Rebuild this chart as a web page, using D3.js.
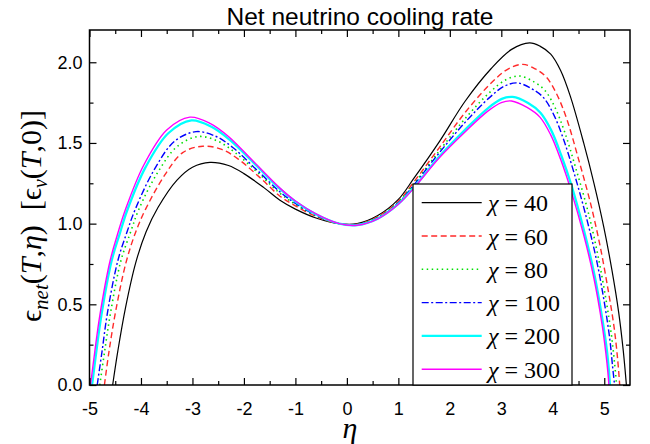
<!DOCTYPE html>
<html><head><meta charset="utf-8">
<script src="https://cdn.jsdelivr.net/npm/d3@7"></script>
<style>body{margin:0;background:#fff}</style>
</head><body><svg id="c" width="650" height="444"></svg>
<script>
// ---- data ----
const chiLabels = ["40", "60", "80", "100", "200", "300"];
const xTicks = [-5, -4, -3, -2, -1, 0, 1, 2, 3, 4, 5];
const yTicks = [0.0, 0.5, 1.0, 1.5, 2.0];

const eta40 = [-4.55,-4.45,-4.30,-4.10,-3.90,-3.67,-3.30,-3.00,-2.66,-2.30,-2.00,-1.60,-1.30,-1.00,-0.60,-0.15,0.20,0.60,1.00,1.30,1.80,2.30,2.80,3.20,3.55,3.75,3.96,4.15,4.34,4.60,4.80,4.99,5.15,5.28,5.37,5.43];
const net40 = [0,0.21,0.48,0.76,0.95,1.10,1.27,1.35,1.38,1.36,1.31,1.22,1.145,1.09,1.035,1.00,1.00,1.05,1.15,1.28,1.51,1.76,1.96,2.08,2.12,2.10,2.05,1.95,1.79,1.50,1.25,0.98,0.71,0.45,0.21,0];

const eta60 = [-4.71,-4.62,-4.49,-4.29,-4.10,-3.91,-3.54,-3.19,-2.80,-2.43,-2.11,-1.67,-1.30,-1.00,-0.60,-0.15,0.20,0.60,1.00,1.30,1.80,2.30,2.78,3.13,3.42,3.66,3.88,4.08,4.27,4.50,4.73,4.92,5.08,5.19,5.26,5.30];
const net60 = [0,0.21,0.46,0.76,0.95,1.09,1.30,1.44,1.48,1.46,1.40,1.28,1.17,1.11,1.044,1.00,0.996,1.043,1.139,1.258,1.473,1.69,1.864,1.958,1.987,1.959,1.906,1.80,1.65,1.40,1.13,0.86,0.58,0.36,0.16,0];

const eta80 = [-4.80,-4.71,-4.59,-4.39,-4.21,-4.04,-3.67,-3.29,-2.88,-2.50,-2.17,-1.71,-1.30,-1.00,-0.60,-0.15,0.20,0.60,1.00,1.30,1.80,2.30,2.77,3.09,3.35,3.61,3.84,4.04,4.23,4.45,4.69,4.88,5.04,5.14,5.20,5.24];
const net80 = [0,0.20,0.45,0.77,0.94,1.09,1.32,1.48,1.54,1.51,1.44,1.31,1.188,1.12,1.049,1.00,0.994,1.039,1.133,1.246,1.453,1.652,1.812,1.892,1.915,1.883,1.828,1.722,1.568,1.34,1.068,0.798,0.516,0.307,0.136,0];

const eta100 = [-4.85,-4.76,-4.65,-4.45,-4.28,-4.11,-3.75,-3.35,-2.93,-2.54,-2.21,-1.74,-1.30,-1.00,-0.60,-0.15,0.20,0.60,1.00,1.30,1.80,2.30,2.77,3.06,3.31,3.58,3.82,4.02,4.21,4.42,4.66,4.86,5.02,5.11,5.16,5.20];
const net100 = [0,0.20,0.45,0.77,0.94,1.09,1.33,1.51,1.57,1.54,1.47,1.33,1.197,1.125,1.052,1.00,0.993,1.036,1.129,1.239,1.441,1.629,1.781,1.852,1.872,1.838,1.781,1.674,1.521,1.307,1.029,0.759,0.475,0.278,0.12,0];

const eta200 = [-4.95,-4.87,-4.77,-4.57,-4.41,-4.27,-3.91,-3.47,-3.02,-2.63,-2.28,-1.79,-1.30,-1.00,-0.60,-0.15,0.20,0.60,1.00,1.30,1.80,2.30,2.75,3.01,3.22,3.52,3.76,3.97,4.16,4.36,4.61,4.81,4.97,5.05,5.09,5.11];
const net200 = [0,0.20,0.43,0.77,0.94,1.08,1.35,1.56,1.64,1.60,1.52,1.37,1.215,1.137,1.058,1.00,0.991,1.031,1.122,1.224,1.417,1.583,1.718,1.773,1.785,1.747,1.687,1.578,1.427,1.24,0.952,0.682,0.394,0.217,0.089,0];

const eta300 = [-4.98,-4.90,-4.80,-4.60,-4.45,-4.31,-3.95,-3.50,-3.05,-2.65,-2.30,-1.80,-1.30,-1.00,-0.60,-0.15,0.20,0.60,1.00,1.30,1.80,2.30,2.75,3.00,3.20,3.50,3.75,3.96,4.15,4.34,4.60,4.80,4.96,5.03,5.07,5.09];
const net300 = [0,0.20,0.43,0.77,0.94,1.08,1.36,1.58,1.66,1.62,1.54,1.38,1.22,1.14,1.06,1.00,0.99,1.03,1.12,1.22,1.41,1.57,1.70,1.75,1.76,1.72,1.66,1.55,1.40,1.22,0.93,0.66,0.37,0.20,0.08,0];

const etaSets = [eta40, eta60, eta80, eta100, eta200, eta300];
const netSets = [net40, net60, net80, net100, net200, net300];

// ---- styles ----
const colors = ["#000000", "#ff2a2a", "#00e000", "#0000ff", "#00ffff", "#ff00ff"];
const widths = [1.2, 1.4, 1.6, 1.4, 2.3, 1.4];
const dashes = [null, "6,3.5", "1.5,3.5", "7,2.5,2,2.5", null, null];
const serif = "'Liberation Serif', 'Times New Roman', Times, serif";
const sans = "'Liberation Sans', Arial, Helvetica, sans-serif";

const svg = d3.select("#c");
const L = 89.5, R = 630, T = 30, B = 385;
const x = d3.scaleLinear().domain([-5, 5.5]).range([L, R]);
const y = d3.scaleLinear().domain([0, 2.2]).range([B, T]);

svg.append("defs").append("clipPath").attr("id", "clip")
  .append("rect").attr("x", L).attr("y", T).attr("width", R - L).attr("height", B - T);

// curves
const line = d3.line().x(d => x(d[0])).y(d => y(d[1])).curve(d3.curveCatmullRom.alpha(0.5));
const g = svg.append("g").attr("clip-path", "url(#clip)");
etaSets.forEach((etas, i) => {
  const pts = etas.map((e, k) => [e, netSets[i][k]]);
  g.append("path").attr("d", line(pts)).attr("fill", "none")
    .attr("stroke", colors[i]).attr("stroke-width", widths[i])
    .attr("stroke-dasharray", dashes[i]);
});

// axes
const xMinor = d3.range(-4.5, 5.5, 1);
const yMinor = [0.25, 0.75, 1.25, 1.75];

function styleAxis(sel) {
  sel.select(".domain").remove();
  sel.selectAll("line").attr("stroke", "#000").attr("stroke-width", 1.2);
  sel.selectAll("text").attr("font-family", sans).attr("font-size", 18).attr("fill", "#000");
}
svg.append("g").attr("transform", `translate(0,${B})`)
  .call(d3.axisBottom(x).tickValues(xTicks).tickSize(-7).tickPadding(17).tickFormat(d => String(d)))
  .call(styleAxis);
svg.append("g").attr("transform", `translate(0,${B})`)
  .call(d3.axisBottom(x).tickValues(xMinor).tickSize(-4).tickFormat("")).call(styleAxis);
svg.append("g").attr("transform", `translate(0,${T})`)
  .call(d3.axisTop(x).tickValues(xTicks).tickSize(-7).tickFormat("")).call(styleAxis);
svg.append("g").attr("transform", `translate(0,${T})`)
  .call(d3.axisTop(x).tickValues(xMinor).tickSize(-4).tickFormat("")).call(styleAxis);
svg.append("g").attr("transform", `translate(${L},0)`)
  .call(d3.axisLeft(y).tickValues(yTicks).tickSize(-7).tickPadding(7).tickFormat(d3.format(".1f")))
  .call(styleAxis);
svg.append("g").attr("transform", `translate(${L},0)`)
  .call(d3.axisLeft(y).tickValues(yMinor).tickSize(-4).tickFormat("")).call(styleAxis);
svg.append("g").attr("transform", `translate(${R},0)`)
  .call(d3.axisRight(y).tickValues(yTicks).tickSize(-7).tickFormat("")).call(styleAxis);
svg.append("g").attr("transform", `translate(${R},0)`)
  .call(d3.axisRight(y).tickValues(yMinor).tickSize(-4).tickFormat("")).call(styleAxis);

// frame
svg.append("rect").attr("x", L).attr("y", T).attr("width", R - L).attr("height", B - T)
  .attr("fill", "none").attr("stroke", "#000").attr("stroke-width", 1.5);

// legend
const lg = svg.append("g");
lg.append("rect").attr("x", 413).attr("y", 184).attr("width", 159).attr("height", B - 184)
  .attr("fill", "#fff").attr("stroke", "#000").attr("stroke-width", 1.2);
chiLabels.forEach((lab, i) => {
  const cy = 202.7 + i * 33.3;
  lg.append("line").attr("x1", 421.7).attr("x2", 481.7).attr("y1", cy).attr("y2", cy)
    .attr("stroke", colors[i]).attr("stroke-width", widths[i]).attr("stroke-dasharray", dashes[i]);
  const t = lg.append("text").attr("x", 488).attr("y", cy + 8.5)
    .style("font-family", serif).attr("font-size", 24).attr("fill", "#000");
  t.append("tspan").attr("font-style", "italic").text("χ");
  t.append("tspan").text(" = " + lab);
});

// title
svg.append("text").attr("x", 360).attr("y", 25).attr("text-anchor", "middle")
  .style("font-family", sans).attr("font-size", 24.5).attr("fill", "#000")
  .text("Net neutrino cooling rate");

// x label
svg.append("text").attr("x", 350).attr("y", 438).attr("text-anchor", "middle")
  .style("font-family", serif).attr("font-style", "italic")
  .attr("font-size", 30).attr("fill", "#000").text("η");

// y label
const yl = svg.append("text").attr("transform", "translate(41,216) rotate(-90)")
  .attr("text-anchor", "middle")
  .style("font-family", serif).attr("font-size", 30).attr("fill", "#000");
yl.append("tspan").text("ϵ");
yl.append("tspan").attr("font-style", "italic").attr("font-size", 21).attr("dy", 7).text("net");
yl.append("tspan").attr("dy", -7).text("(");
yl.append("tspan").attr("font-style", "italic").text("T");
yl.append("tspan").text(",");
yl.append("tspan").attr("font-style", "italic").text("η");
yl.append("tspan").text(")\u00a0\u00a0[ϵ");
yl.append("tspan").attr("font-style", "italic").attr("font-size", 20).attr("dy", 6).text("ν");
yl.append("tspan").attr("dy", -6).text("(");
yl.append("tspan").attr("font-style", "italic").text("T");
yl.append("tspan").text(",0)]");
</script>
</body></html>
